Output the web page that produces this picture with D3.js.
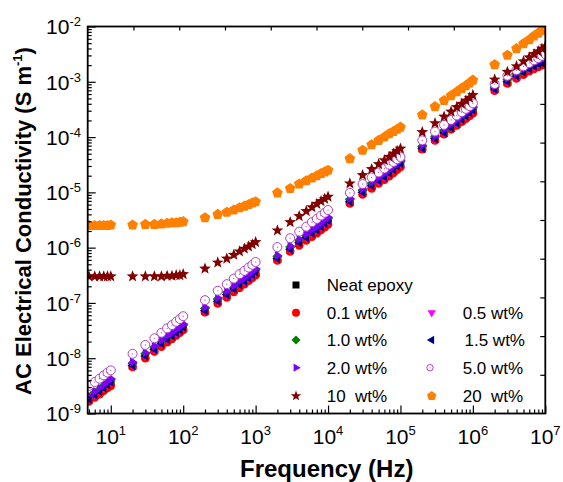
<!DOCTYPE html>
<html><head><meta charset="utf-8">
<script src="https://cdn.jsdelivr.net/npm/d3@7"></script>
<style>body{margin:0;background:#fff} text{font-family:Arial,"Liberation Sans",sans-serif;fill:#000}</style>
</head><body><svg id="c" width="563" height="482"></svg>
<script>
// Frequency (Hz)
const freq = [5,6,7,8,9,10,
  20,30,40,50,60,70,80,90,100,
  200,300,400,500,600,700,800,900,1000,
  2e3,3e3,4e3,5e3,6e3,7e3,8e3,9e3,1e4,
  2e4,3e4,4e4,5e4,6e4,7e4,8e4,9e4,1e5,
  2e5,3e5,4e5,5e5,6e5,7e5,8e5,9e5,1e6,
  2e6,3e6,4e6,5e6,6e6,7e6,8e6,9e6,1e7];

// log10 of AC conductivity (S/m)
const neatEpoxy = [-8.75,-8.67,-8.61,-8.55,-8.49,-8.44,
  -8.14,-7.97,-7.85,-7.75,-7.67,-7.61,-7.55,-7.50,-7.45,
  -7.15,-6.98,-6.86,-6.76,-6.68,-6.62,-6.56,-6.51,-6.46,
  -6.21,-6.04,-5.92,-5.83,-5.76,-5.70,-5.64,-5.58,-5.53,
  -5.18,-5.01,-4.89,-4.80,-4.73,-4.67,-4.61,-4.55,-4.50,
  -4.21,-4.04,-3.93,-3.84,-3.76,-3.70,-3.64,-3.58,-3.53,
  -3.14,-3.01,-2.91,-2.84,-2.78,-2.73,-2.69,-2.66,-2.63];
const wt0_1 = [-8.78,-8.71,-8.65,-8.59,-8.54,-8.50,
  -8.16,-8.00,-7.88,-7.79,-7.71,-7.65,-7.59,-7.54,-7.49,
  -7.17,-7.01,-6.90,-6.80,-6.73,-6.66,-6.60,-6.55,-6.50,
  -6.23,-6.07,-5.96,-5.87,-5.80,-5.74,-5.68,-5.63,-5.58,
  -5.20,-5.04,-4.93,-4.84,-4.77,-4.71,-4.65,-4.59,-4.54,
  -4.22,-4.06,-3.95,-3.86,-3.79,-3.72,-3.67,-3.62,-3.57,
  -3.16,-3.03,-2.94,-2.87,-2.81,-2.77,-2.73,-2.70,-2.67];
const wt0_5 = [-8.73,-8.65,-8.59,-8.53,-8.47,-8.42,
  -8.12,-7.95,-7.83,-7.73,-7.65,-7.59,-7.53,-7.48,-7.43,
  -7.13,-6.96,-6.84,-6.74,-6.66,-6.60,-6.54,-6.48,-6.43,
  -6.19,-6.02,-5.90,-5.81,-5.73,-5.67,-5.61,-5.55,-5.50,
  -5.16,-4.99,-4.87,-4.78,-4.71,-4.64,-4.58,-4.52,-4.47,
  -4.19,-4.02,-3.91,-3.82,-3.74,-3.67,-3.61,-3.55,-3.50,
  -3.12,-2.99,-2.89,-2.82,-2.76,-2.71,-2.67,-2.64,-2.61];
const wt1_0 = [-8.70,-8.62,-8.56,-8.50,-8.44,-8.39,
  -8.09,-7.92,-7.80,-7.70,-7.62,-7.56,-7.50,-7.45,-7.40,
  -7.10,-6.93,-6.81,-6.71,-6.63,-6.57,-6.51,-6.45,-6.40,
  -6.16,-5.99,-5.87,-5.78,-5.70,-5.64,-5.58,-5.52,-5.47,
  -5.13,-4.96,-4.84,-4.75,-4.68,-4.61,-4.55,-4.49,-4.44,
  -4.17,-4.00,-3.88,-3.79,-3.71,-3.64,-3.58,-3.52,-3.47,
  -3.10,-2.96,-2.86,-2.79,-2.73,-2.68,-2.64,-2.61,-2.59];
const wt1_5 = [-8.74,-8.66,-8.60,-8.54,-8.48,-8.43,
  -8.13,-7.96,-7.84,-7.74,-7.66,-7.60,-7.54,-7.49,-7.44,
  -7.14,-6.97,-6.85,-6.75,-6.67,-6.61,-6.55,-6.49,-6.44,
  -6.20,-6.03,-5.91,-5.82,-5.74,-5.68,-5.62,-5.56,-5.51,
  -5.17,-5.00,-4.88,-4.79,-4.72,-4.65,-4.59,-4.53,-4.48,
  -4.20,-4.03,-3.92,-3.83,-3.75,-3.68,-3.62,-3.56,-3.51,
  -3.13,-3.00,-2.90,-2.83,-2.77,-2.72,-2.68,-2.65,-2.62];
const wt2_0 = [-8.68,-8.60,-8.54,-8.48,-8.42,-8.37,
  -8.07,-7.90,-7.78,-7.68,-7.60,-7.54,-7.48,-7.43,-7.38,
  -7.08,-6.91,-6.79,-6.69,-6.61,-6.55,-6.49,-6.43,-6.38,
  -6.14,-5.97,-5.85,-5.76,-5.68,-5.62,-5.56,-5.50,-5.45,
  -5.11,-4.94,-4.82,-4.73,-4.66,-4.59,-4.53,-4.47,-4.42,
  -4.15,-3.98,-3.86,-3.77,-3.69,-3.62,-3.56,-3.50,-3.45,
  -3.08,-2.94,-2.84,-2.77,-2.71,-2.66,-2.62,-2.59,-2.57];
const wt5_0 = [-8.50,-8.43,-8.37,-8.31,-8.26,-8.22,
  -7.92,-7.76,-7.64,-7.54,-7.46,-7.40,-7.34,-7.29,-7.24,
  -6.95,-6.78,-6.66,-6.56,-6.48,-6.42,-6.36,-6.31,-6.26,
  -5.99,-5.83,-5.71,-5.62,-5.54,-5.48,-5.42,-5.37,-5.32,
  -5.01,-4.85,-4.73,-4.64,-4.57,-4.50,-4.45,-4.40,-4.36,
  -4.06,-3.90,-3.78,-3.69,-3.61,-3.55,-3.49,-3.44,-3.39,
  -3.04,-2.89,-2.79,-2.72,-2.66,-2.61,-2.57,-2.53,-2.50];
const wt10 = [-6.52,-6.52,-6.52,-6.52,-6.52,-6.52,
  -6.52,-6.52,-6.52,-6.52,-6.51,-6.51,-6.50,-6.50,-6.48,
  -6.38,-6.27,-6.20,-6.13,-6.07,-6.02,-5.98,-5.94,-5.90,
  -5.69,-5.54,-5.43,-5.34,-5.27,-5.21,-5.16,-5.12,-5.08,
  -4.84,-4.69,-4.58,-4.49,-4.42,-4.36,-4.30,-4.25,-4.21,
  -3.91,-3.75,-3.63,-3.54,-3.46,-3.40,-3.34,-3.29,-3.24,
  -2.96,-2.82,-2.72,-2.63,-2.56,-2.50,-2.45,-2.40,-2.36];
const wt20 = [-5.60,-5.60,-5.60,-5.60,-5.60,-5.59,
  -5.59,-5.58,-5.58,-5.57,-5.56,-5.55,-5.55,-5.54,-5.53,
  -5.46,-5.40,-5.36,-5.32,-5.28,-5.25,-5.22,-5.19,-5.17,
  -5.01,-4.93,-4.85,-4.79,-4.74,-4.70,-4.66,-4.63,-4.60,
  -4.39,-4.24,-4.14,-4.06,-4.00,-3.94,-3.90,-3.86,-3.82,
  -3.60,-3.45,-3.34,-3.25,-3.18,-3.12,-3.07,-3.02,-2.97,
  -2.69,-2.52,-2.40,-2.31,-2.24,-2.17,-2.12,-2.07,-2.03];

const seriesNames = ["Neat epoxy","0.1 wt%","0.5 wt%","1.0 wt%","1.5 wt%","2.0 wt%","5.0 wt%","10  wt%","20  wt%"];
const xTickExps = [1,2,3,4,5,6,7];
const yTickExps = [-2,-3,-4,-5,-6,-7,-8,-9];

// ---------- marker shapes ----------
function poly(pts){return "M"+pts.map(p=>p[0].toFixed(2)+","+p[1].toFixed(2)).join("L")+"Z";}
function shape(type, r){
  switch(type){
    case "square": return poly([[-r,-r],[r,-r],[r,r],[-r,r]]);
    case "circle": return `M${r},0A${r},${r},0,1,1,${-r},0A${r},${r},0,1,1,${r},0Z`;
    case "diamond": return poly([[0,-r],[r,0],[0,r],[-r,0]]);
    case "down": return poly([[0,r],[-0.866*r,-0.5*r],[0.866*r,-0.5*r]]);
    case "left": return poly([[-r,0],[0.5*r,-0.866*r],[0.5*r,0.866*r]]);
    case "right": return poly([[r,0],[-0.5*r,-0.866*r],[-0.5*r,0.866*r]]);
    case "star": { const p=[]; for(let i=0;i<10;i++){const a=-Math.PI/2+i*Math.PI/5; const rr=i%2?r*0.42:r; p.push([rr*Math.cos(a),rr*Math.sin(a)]);} return poly(p);}
    case "pentagon": { const p=[]; for(let i=0;i<5;i++){const a=-Math.PI/2+i*2*Math.PI/5; p.push([r*Math.cos(a),r*Math.sin(a)]);} return poly(p);}
  }
}

const series = [
  {name:seriesNames[0], vals:neatEpoxy, type:"square",  r:3.8, fill:"#000000", stroke:"none", lr:3.5},
  {name:seriesNames[1], vals:wt0_1,     type:"circle",  r:4.3, fill:"#FF0000", stroke:"none", lr:4.0},
  {name:seriesNames[2], vals:wt0_5,     type:"down",    r:5.2, fill:"#FF00FF", stroke:"none", lr:4.8},
  {name:seriesNames[3], vals:wt1_0,     type:"diamond", r:5.0, fill:"#008000", stroke:"none", lr:4.6},
  {name:seriesNames[4], vals:wt1_5,     type:"left",    r:5.2, fill:"#000080", stroke:"none", lr:4.8},
  {name:seriesNames[5], vals:wt2_0,     type:"right",   r:5.2, fill:"#8000FF", stroke:"none", lr:4.8},
  {name:seriesNames[6], vals:wt5_0,     type:"circle",  r:4.5, fill:"#FFFFFF", stroke:"#B040C0", lr:3.2, dot:true},
  {name:seriesNames[7], vals:wt10,      type:"star",    r:6.2, fill:"#800000", stroke:"none", lr:5.4},
  {name:seriesNames[8], vals:wt20,      type:"pentagon",r:5.6, fill:"#FF8000", stroke:"none", lr:5.0}
];

const L=87.7, R=545.3, T=26.5, B=413.5;
const svg = d3.select("#c");
const x = d3.scaleLog().domain([4.8,1e7]).range([L,R]);
const y = d3.scaleLog().domain([1e-9,1e-2]).range([B,T]);

svg.append("defs").append("clipPath").attr("id","clip")
  .append("rect").attr("x",L).attr("y",T).attr("width",R-L).attr("height",B-T);

// ---------- data ----------
const plot = svg.append("g").attr("clip-path","url(#clip)");
series.forEach(s=>{
  const g = plot.append("g");
  const pts = freq.map((f,i)=>({f, v:Math.pow(10,s.vals[i])}));
  g.selectAll("path").data(pts).enter().append("path")
    .attr("transform",d=>`translate(${x(d.f)},${y(d.v)})`)
    .attr("d",shape(s.type,s.r))
    .attr("fill",s.fill).attr("stroke",s.stroke).attr("stroke-width",1);
  if(s.dot){
    g.selectAll("circle").data(pts).enter().append("circle")
      .attr("cx",d=>x(d.f)).attr("cy",d=>y(d.v)).attr("r",0.6).attr("fill",s.stroke);
  }
});

// ---------- axes ----------
const xMajor = xTickExps.map(e=>Math.pow(10,e));
const xMinor = [];
for(let e=0;e<7;e++) for(let k=2;k<=9;k++){const v=k*Math.pow(10,e); if(v>=4.8&&v<=1e7) xMinor.push(v);}
const yMajor = yTickExps.map(e=>Math.pow(10,e));
const yMinor = [];
for(let e=-9;e<-2;e++) for(let k=2;k<=9;k++) yMinor.push(k*Math.pow(10,e));

function styleAxis(g){ g.select(".domain").remove(); g.selectAll("line").attr("stroke","#000").attr("stroke-width",1.2); }

svg.append("g").attr("transform",`translate(0,${B})`).call(d3.axisBottom(x).tickValues(xMajor).tickSize(-8).tickFormat("")).call(styleAxis);
svg.append("g").attr("transform",`translate(0,${B})`).call(d3.axisBottom(x).tickValues(xMinor).tickSize(-4).tickFormat("")).call(styleAxis);
svg.append("g").attr("transform",`translate(${L},0)`).call(d3.axisLeft(y).tickValues(yMajor).tickSize(-8).tickFormat("")).call(styleAxis);
svg.append("g").attr("transform",`translate(${L},0)`).call(d3.axisLeft(y).tickValues(yMinor).tickSize(-4).tickFormat("")).call(styleAxis);

// top and right mirror axes: 10 evenly spaced divisions
const xt = d3.scaleLinear().domain([0,10]).range([L,R]);
const yr = d3.scaleLinear().domain([0,10]).range([B,T]);
svg.append("g").attr("transform",`translate(0,${T})`).call(d3.axisTop(xt).tickValues(d3.range(1,10)).tickSize(-4).tickFormat("")).call(styleAxis);
svg.append("g").attr("transform",`translate(${R},0)`).call(d3.axisRight(yr).tickValues(d3.range(1,10)).tickSize(-5).tickFormat("")).call(styleAxis);

svg.append("rect").attr("x",L).attr("y",T).attr("width",R-L).attr("height",B-T)
  .attr("fill","none").attr("stroke","#000").attr("stroke-width",1.8);

// tick labels
xTickExps.forEach(e=>{
  const t = svg.append("text").attr("x",x(Math.pow(10,e))).attr("y",444).attr("text-anchor","middle").style("font-size","21px");
  t.append("tspan").text("10");
  t.append("tspan").attr("dy",-9).style("font-size","13px").text(e);
});
yTickExps.forEach(e=>{
  const t = svg.append("text").attr("x",81).attr("y",y(Math.pow(10,e))+7.8).attr("text-anchor","end").style("font-size","21px");
  t.append("tspan").text("10");
  t.append("tspan").attr("dy",-8).style("font-size","13px").text(e);
});

// axis titles
svg.append("text").attr("x",326.7).attr("y",476.5).attr("text-anchor","middle")
  .style("font-size","24px").style("font-weight","bold").text("Frequency (Hz)");
const yt = svg.append("text").attr("transform","translate(31,221) rotate(-90)").attr("text-anchor","middle")
  .style("font-size","22px").style("font-weight","bold");
yt.append("tspan").text("AC Electrical Conductivity (S m");
yt.append("tspan").attr("dy",-9).style("font-size","13px").text("-1");
yt.append("tspan").attr("dy",9).text(")");

// ---------- legend ----------
const legPos = [
  [296,285],
  [296,312.7],[431.7,312.7],
  [296,340],[431.7,340],
  [296,367.7],[430,367.7],
  [296,396],[431.7,396]
];
const legTextX = [326.7, 326.7,462.7, 326.7,464.5, 326.7,462.7, 326.7,462.7];
const legend = svg.append("g");
series.forEach((s,i)=>{
  const [lx,ly] = legPos[i];
  legend.append("path").attr("transform",`translate(${lx},${ly})`).attr("d",shape(s.type,s.lr))
    .attr("fill",s.fill).attr("stroke",s.stroke).attr("stroke-width",1);
  if(s.dot) legend.append("circle").attr("cx",lx).attr("cy",ly).attr("r",0.5).attr("fill",s.stroke);
  legend.append("text").attr("x",legTextX[i]).attr("y",ly+6).style("font-size","17px")
    .attr("xml:space","preserve").style("white-space","pre").text(s.name);
});
</script></body></html>
